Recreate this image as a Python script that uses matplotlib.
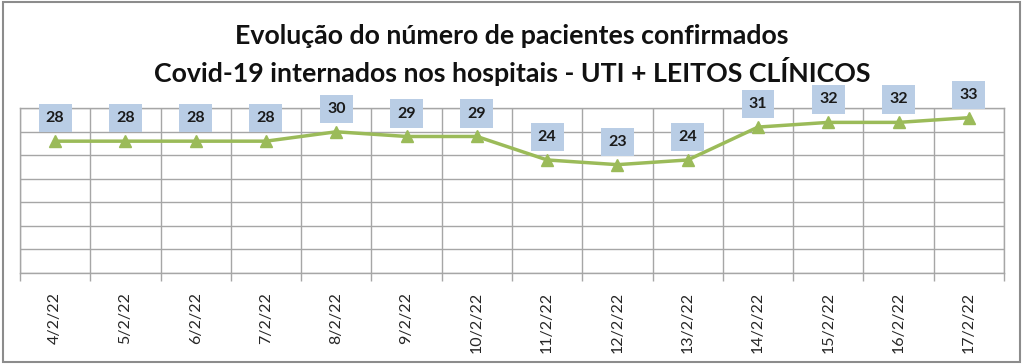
import matplotlib
matplotlib.use("Agg")
import matplotlib.pyplot as plt
from matplotlib.patches import Rectangle
from matplotlib.ticker import FixedLocator, NullFormatter

dates = ["4/2/22", "5/2/22", "6/2/22", "7/2/22", "8/2/22", "9/2/22", "10/2/22",
         "11/2/22", "12/2/22", "13/2/22", "14/2/22", "15/2/22", "16/2/22", "17/2/22"]
pacientes = [28, 28, 28, 28, 30, 29, 29, 24, 23, 24, 31, 32, 32, 33]

title_l1 = "Evolução do número de pacientes confirmados"
title_l2 = "Covid-19 internados nos hospitais - UTI + LEITOS CLÍNICOS"

plt.rcParams['font.family'] = ['Lato', 'DejaVu Sans']

fig = plt.figure(figsize=(10.24, 3.64), dpi=100)
ax = fig.add_axes([0.0195, 0.2508, 0.961, 0.4517])

x = list(range(len(dates)))
ax.plot(x, pacientes, color="#9BBB59", lw=2.5, marker="^", markersize=9,
        markeredgecolor="#9BBB59", zorder=3)

# rótulos de dados acima de cada ponto
for xi, v in zip(x, pacientes):
    ax.annotate(str(v), (xi, v), xytext=(0, 16.5), textcoords="offset points",
                ha="center", va="center", fontsize=11.5, fontweight="bold", color="#1a1a1a",
                bbox=dict(boxstyle="square,pad=0.45", fc="#B9CDE5", ec="none"),
                annotation_clip=False, zorder=4)

ax.set_xlim(-0.5, len(dates) - 0.5)
ax.set_ylim(0, 35)
ax.set_yticks(range(0, 36, 5))
ax.yaxis.set_major_formatter(NullFormatter())
ax.tick_params(axis="y", length=0)
ax.grid(axis="y", color="#a6a6a6", lw=1)

ax.set_xticks(x)
ax.set_xticklabels(dates, rotation=90, fontsize=11.5, color="#262626")
ax.tick_params(axis="x", length=0, pad=14)
ax.xaxis.set_minor_locator(FixedLocator([i - 0.5 for i in range(len(dates) + 1)]))
ax.tick_params(axis="x", which="minor", length=6, color="#a6a6a6", width=1)
ax.grid(axis="x", which="minor", color="#a6a6a6", lw=1)

for s in ax.spines.values():
    s.set_color("#a6a6a6")
    s.set_linewidth(1)

fig.text(0.5, 0.879, title_l1, ha="center", va="baseline", fontsize=19.3,
         fontweight="bold", color="#111111")
fig.text(0.5, 0.775, title_l2, ha="center", va="baseline", fontsize=19.3,
         fontweight="bold", color="#111111")

fig.patches.append(Rectangle((0.003, 0.006), 0.993, 0.988, transform=fig.transFigure,
                             fill=False, ec="#8c8c8c", lw=1.5))

fig.savefig("out.png", dpi=100)
